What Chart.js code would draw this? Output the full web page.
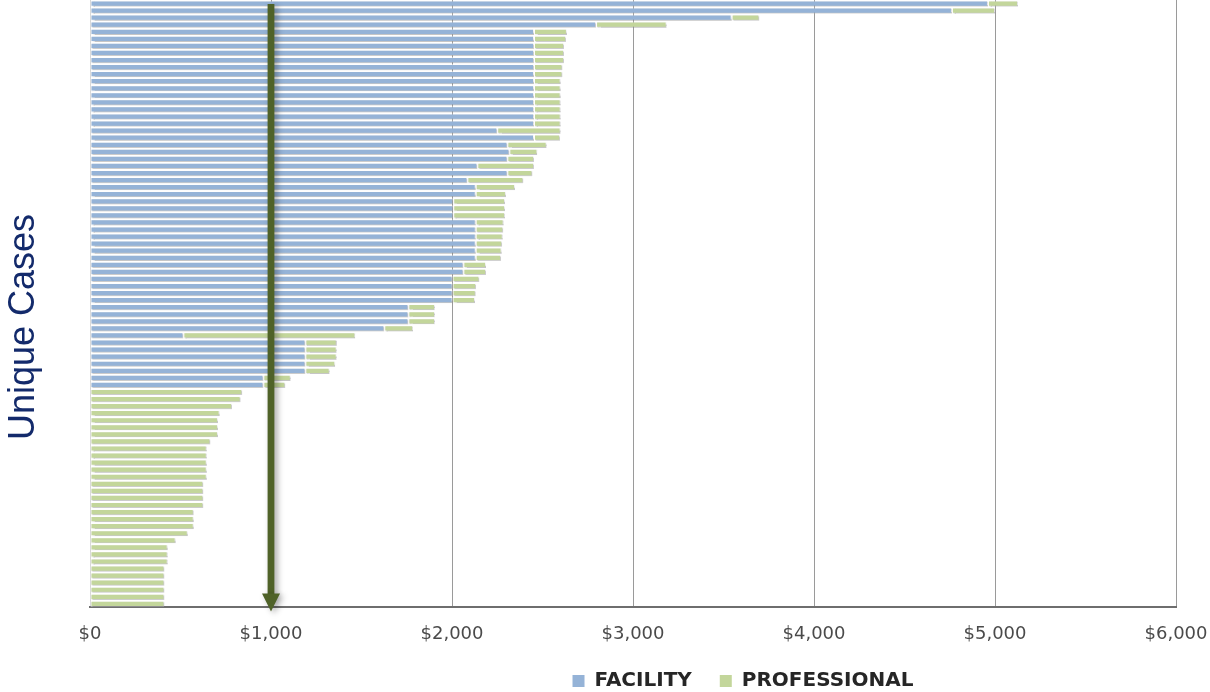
<!DOCTYPE html>
<html>
<head>
<meta charset="utf-8">
<script src="https://cdn.jsdelivr.net/npm/chart.js@4"></script>
<style>
  html, body { margin: 0; padding: 0; background: #fff; }
  #wrap { width: 1210px; height: 692px; }
</style>
</head>
<body>
<div id="wrap"><canvas id="costChart"></canvas></div>
<script>
// Cost per unique case, top to bottom
const facility = [
    4961, 4762, 3545, 2796,
    2453, 2453, 2453, 2453, 2453, 2453, 2453, 2453, 2453, 2453, 2453, 2453, 2453, 2453,
    2250, 2453, 2306, 2317, 2306, 2140, 2306, 2085, 2131, 2131,
    2007, 2007, 2007,
    2131, 2131, 2131, 2131, 2131, 2131,
    2063, 2063,
    2003, 2003, 2003, 2003,
    1759, 1759, 1759, 1626, 516,
    1190, 1190, 1190, 1190, 1190,
    958, 958,
    0, 0, 0, 0, 0, 0, 0, 0, 0, 0, 0, 0, 0, 0, 0, 0,
    0, 0, 0, 0, 0, 0, 0, 0, 0, 0, 0, 0, 0, 0, 0
];
const professional = [
    166, 238, 153, 390,
    182, 177, 166, 166, 166, 157, 157, 147, 147, 147, 147, 147, 147, 147,
    350, 144, 217, 155, 147, 313, 138, 309, 217, 167,
    286, 286, 286,
    154, 152, 149, 146, 143, 140,
    125, 125,
    148, 130, 128, 124,
    147, 147, 147, 159, 950,
    173, 173, 173, 165, 134,
    151, 121,
    841, 832, 785, 716, 707, 707, 707, 665, 645, 645, 645, 645, 645, 626, 626,
    626, 626, 573, 573, 573, 540, 473, 429, 429, 429, 411, 411, 411, 411, 411, 411
];
const cases = facility.map((_, i) => 'Case ' + (i + 1));
const tickLabels = ['$0', '$1,000', '$2,000', '$3,000', '$4,000', '$5,000', '$6,000'];
const markerValue = 1000;

const BLUE = '#95b3d7';
const GREEN = '#c3d69b';

// soft shadow under the bars
const barShadow = {
    id: 'barShadow',
    beforeDatasetsDraw(chart) {
        const ctx = chart.ctx;
        ctx.save();
        ctx.shadowColor = 'rgba(0,0,0,0.22)';
        ctx.shadowOffsetX = 1;
        ctx.shadowOffsetY = 1;
        ctx.shadowBlur = 1;
    },
    afterDatasetsDraw(chart) {
        chart.ctx.restore();
    }
};

// vertical arrow at the $1,000 mark
const markerArrow = {
    id: 'markerArrow',
    afterDraw(chart) {
        const ctx = chart.ctx;
        const x = chart.scales.x.getPixelForValue(markerValue);
        const top = chart.chartArea.top + 4;
        const tip = chart.chartArea.bottom + 4;
        ctx.save();
        ctx.shadowColor = 'rgba(0,0,0,0.35)';
        ctx.shadowBlur = 6;
        ctx.shadowOffsetX = 3;
        ctx.shadowOffsetY = 2;
        ctx.fillStyle = '#4f6228';
        ctx.fillRect(x - 3.4, top, 6.8, tip - top - 16);
        ctx.beginPath();
        ctx.moveTo(x - 9, tip - 18);
        ctx.lineTo(x + 9, tip - 18);
        ctx.lineTo(x, tip);
        ctx.closePath();
        ctx.fill();
        ctx.restore();
    }
};

// rotated axis title
const yTitle = {
    id: 'yTitle',
    afterDraw(chart) {
        const ctx = chart.ctx;
        ctx.save();
        ctx.translate(24, chart.chartArea.top + 327);
        ctx.rotate(-Math.PI / 2);
        ctx.font = '36px "Liberation Sans", Arial, sans-serif';
        ctx.fillStyle = '#132a6b';
        ctx.textAlign = 'center';
        ctx.textBaseline = 'middle';
        ctx.fillText('Unique Cases', 0, 0);
        ctx.restore();
    }
};

// tighter legend box, nudged right like the original
const legendPlace = {
    id: 'legendPlace',
    beforeInit(chart) {
        const fit = chart.legend.fit;
        chart.legend.fit = function () {
            fit.call(this);
            this.height -= 27;
        };
    },
    afterLayout(chart) {
        const lg = chart.legend;
        lg.top -= 18;
        lg.height += 18;
        lg.left += 110;
        lg.right += 110;
    }
};

const ctx = document.getElementById('costChart').getContext('2d');
new Chart(ctx, {
    type: 'bar',
    data: {
        labels: cases,
        datasets: [
            {
                label: 'FACILITY',
                data: facility,
                backgroundColor: BLUE,
                borderColor: 'rgba(255,255,255,0.45)',
                borderWidth: 1,
                borderSkipped: false
            },
            {
                label: 'PROFESSIONAL',
                data: professional,
                backgroundColor: GREEN,
                borderColor: 'rgba(255,255,255,0.45)',
                borderWidth: 1,
                borderSkipped: false
            }
        ]
    },
    options: {
        indexAxis: 'y',
        responsive: true,
        maintainAspectRatio: false,
        animation: false,
        layout: { padding: { left: 90, right: 34, top: 0, bottom: 0 } },
        datasets: {
            bar: { categoryPercentage: 1, barPercentage: 0.88 }
        },
        scales: {
            x: {
                stacked: true,
                min: 0,
                max: 6000,
                afterFit(scale) {
                    scale.paddingLeft = 0;
                    scale.paddingRight = 0;
                },
                ticks: {
                    stepSize: 1000,
                    padding: 16,
                    color: '#4a4a4a',
                    font: { family: '"DejaVu Sans"', size: 18 },
                    callback: (v, i) => tickLabels[i]
                },
                grid: {
                    drawTicks: false,
                    color: c => (c.tick && c.tick.value === 0) ? '#d6d6d6' : '#9a9a9a'
                },
                border: { color: '#6e6e6e', width: 2 }
            },
            y: {
                stacked: true,
                display: false
            }
        },
        plugins: {
            legend: {
                position: 'bottom',
                labels: {
                    boxWidth: 12,
                    boxHeight: 12,
                    padding: 28,
                    color: '#262626',
                    font: { family: '"DejaVu Sans"', size: 20, weight: 'bold' },
                    generateLabels(chart) {
                        return chart.data.datasets.map((d, i) => ({
                            text: d.label,
                            fillStyle: d.backgroundColor,
                            strokeStyle: d.backgroundColor,
                            lineWidth: 0,
                            fontColor: '#262626',
                            datasetIndex: i
                        }));
                    }
                }
            },
            tooltip: { enabled: false },
            title: { display: false }
        }
    },
    plugins: [barShadow, markerArrow, yTitle, legendPlace]
});
</script>
</body>
</html>
